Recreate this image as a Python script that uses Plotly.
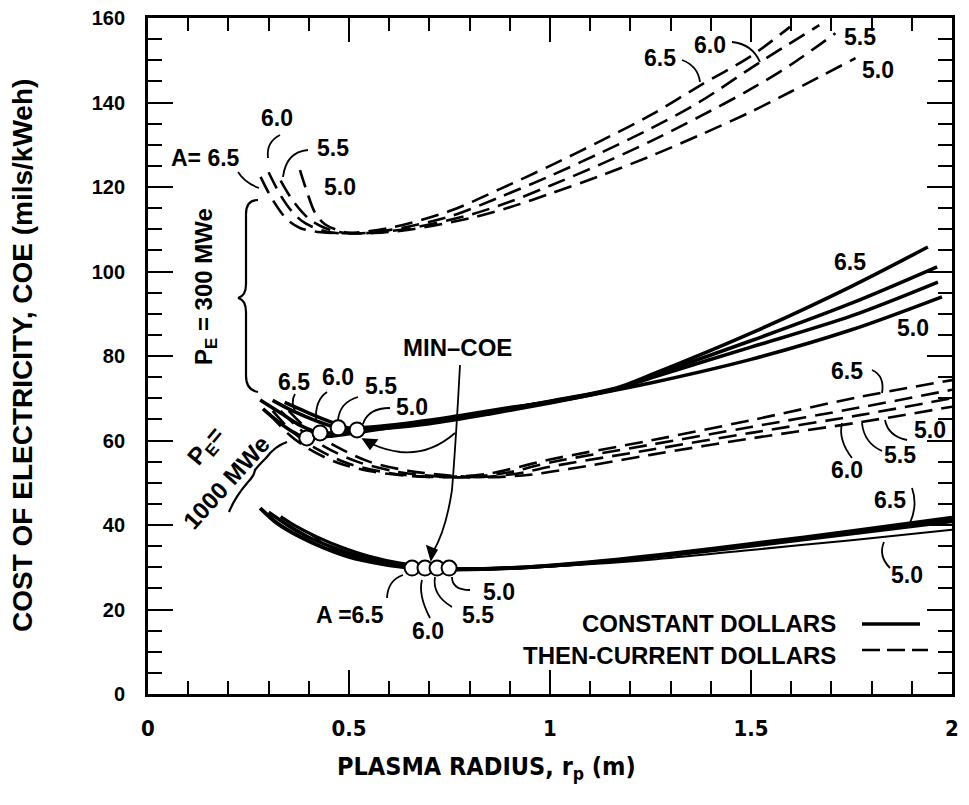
import plotly.graph_objects as go

# ---------------- data ----------------
# P_E = 300 MWe, then-current dollars (dashed)
r300t_65 = [0.28, 0.31, 0.346, 0.378, 0.43, 0.5, 0.6, 0.75, 0.875, 1.0, 1.124, 1.25, 1.373, 1.5, 1.597]
c300t_65 = [122.4, 117, 112.3, 110.3, 109.3, 109.1, 110.3, 114.3, 119.5, 125, 130.8, 137, 144, 151, 157.9]
r300t_60 = [0.30, 0.33, 0.36, 0.39, 0.445, 0.52, 0.6, 0.75, 0.875, 1.0, 1.124, 1.25, 1.373, 1.52, 1.67]
c300t_60 = [123.5, 118, 114, 111.5, 109.4, 109.0, 109.8, 113, 117.6, 122.6, 128, 133.8, 140.2, 149.4, 158.3]
r300t_55 = [0.33, 0.36, 0.40, 0.44, 0.478, 0.55, 0.65, 0.8, 0.9, 1.0, 1.124, 1.25, 1.373, 1.5, 1.6, 1.71]
c300t_55 = [121.5, 116.8, 112.5, 110.3, 109.3, 109.1, 110.2, 113.4, 116.5, 120.3, 125.3, 130.8, 136.7, 143.2, 149, 156.4]
r300t_50 = [0.378, 0.395, 0.415, 0.44, 0.49, 0.56, 0.65, 0.8, 0.9, 1.0, 1.124, 1.25, 1.373, 1.5, 1.6, 1.76]
c300t_50 = [124, 119, 114, 111.2, 109.3, 109.1, 109.9, 112.6, 115.2, 118.4, 122.6, 127.3, 132.3, 137.8, 142.6, 150.5]

# P_E = 300 MWe, constant dollars (solid)
r300c_65 = [0.286, 0.33, 0.365, 0.395, 0.45, 0.55, 0.7, 0.85, 1.0, 1.167, 1.25, 1.5, 1.75, 1.94]
c300c_65 = [67.5, 64, 61.8, 60.6, 61, 62.3, 64.5, 66.8, 69.3, 72.5, 75.5, 85.4, 96.5, 105.8]
r300c_60 = [0.279, 0.33, 0.38, 0.428, 0.48, 0.56, 0.7, 0.85, 1.0, 1.167, 1.25, 1.5, 1.75, 1.963]
c300c_60 = [69.6, 66.5, 63.5, 61.8, 62.0, 62.8, 64.6, 66.8, 69.2, 72.3, 75.2, 83.6, 92.5, 101.1]
r300c_55 = [0.31, 0.36, 0.42, 0.473, 0.52, 0.6, 0.75, 0.9, 1.0, 1.167, 1.25, 1.5, 1.75, 1.965]
c300c_55 = [69.5, 67, 64.6, 63.0, 63.0, 63.6, 65.5, 67.8, 69.1, 72.2, 74.8, 82.1, 89.5, 97.5]
r300c_50 = [0.34, 0.40, 0.46, 0.52, 0.58, 0.7, 0.85, 1.0, 1.167, 1.25, 1.5, 1.75, 1.975]
c300c_50 = [69, 66.5, 64.2, 62.5, 62.8, 64.0, 66.3, 68.9, 72, 73.6, 79.2, 86.2, 94]

# P_E = 1000 MWe, then-current dollars (dashed)
r1000t_65 = [0.30, 0.35, 0.40, 0.47, 0.55, 0.65, 0.75, 0.85, 1.0, 1.25, 1.5, 1.77, 2.0]
c1000t_65 = [66.5, 61.5, 58, 54.8, 52.8, 51.6, 51.4, 52.2, 55.5, 60, 64.8, 70.3, 74.3]
r1000t_60 = [0.31, 0.36, 0.42, 0.50, 0.60, 0.70, 0.80, 0.90, 1.0, 1.25, 1.5, 1.77, 2.0]
c1000t_60 = [67, 62, 58, 54.5, 52.3, 51.4, 51.4, 52.5, 54.8, 59, 63.2, 67.8, 72]
r1000t_55 = [0.33, 0.38, 0.44, 0.52, 0.62, 0.72, 0.82, 0.92, 1.0, 1.25, 1.5, 1.77, 2.0]
c1000t_55 = [67, 62.5, 58.5, 55, 52.6, 51.5, 51.3, 52.2, 53.8, 57.8, 61.8, 66, 70]
r1000t_50 = [0.35, 0.40, 0.47, 0.55, 0.65, 0.75, 0.85, 0.95, 1.05, 1.25, 1.5, 1.77, 2.0]
c1000t_50 = [67, 62.5, 58.5, 55, 52.8, 51.7, 51.3, 51.9, 53.3, 56.6, 60.5, 64.3, 68]

# P_E = 1000 MWe, constant dollars (solid)
r1000c_65 = [0.279, 0.32, 0.378, 0.44, 0.502, 0.58, 0.657, 0.75, 0.9, 1.1, 1.3, 1.5, 1.75, 2.0]
c1000c_65 = [44, 40.5, 37.2, 34.5, 32.4, 30.8, 29.8, 29.5, 29.8, 31.2, 33.2, 35.5, 38.5, 41.7]
r1000c_60 = [0.30, 0.35, 0.40, 0.46, 0.53, 0.61, 0.689, 0.78, 0.9, 1.1, 1.3, 1.5, 1.75, 2.0]
c1000c_60 = [43, 39.8, 37.1, 34.7, 32.5, 30.8, 29.8, 29.6, 29.8, 31.1, 33.0, 35.3, 38.3, 41.3]
r1000c_55 = [0.33, 0.37, 0.42, 0.48, 0.55, 0.63, 0.719, 0.8, 0.9, 1.1, 1.3, 1.5, 1.75, 2.0]
c1000c_55 = [42, 39.6, 37.2, 34.8, 32.6, 30.9, 29.8, 29.6, 29.8, 31, 32.8, 35, 37.9, 40.8]
r1000c_50 = [0.40, 0.46, 0.52, 0.58, 0.65, 0.749, 0.85, 1.0, 1.25, 1.5, 1.75, 2.0]
c1000c_50 = [38.1, 34.3, 32.3, 31, 30.2, 29.8, 29.8, 30.2, 31.8, 34.1, 36.4, 38.9]

# minimum-COE points
min300_r = [0.395, 0.428, 0.473, 0.52]
min300_coe = [60.6, 61.8, 63.0, 62.5]
min1000_r = [0.657, 0.689, 0.719, 0.749]
min1000_coe = [29.8, 29.8, 29.8, 29.8]

x_tickvals = [0, 0.5, 1, 1.5, 2]
x_ticktext = ["0", "0.5", "1", "1.5", "2"]
y_tickvals = [0, 20, 40, 60, 80, 100, 120, 140, 160]

# ---------------- helpers for annotation placement (window pixels) ----------------
def X(px):
    return (px - 148) / 402.0

def Y(py):
    return (694 - py) / 4.225

def PX(px):
    return (px - 148) / 804.0

def PY(py):
    return (694 - py) / 676.0

FONT = "Liberation Sans, Arial, Helvetica, sans-serif"
COND = "DejaVu Sans Condensed, Liberation Sans Narrow, Arial Narrow, sans-serif"
BLACK = "black"

fig = go.Figure()

def add_curve(r, c, dashed, width):
    fig.add_trace(go.Scatter(
        x=r, y=c, mode="lines", showlegend=False, hoverinfo="skip",
        line=dict(color=BLACK, width=width, shape="spline", smoothing=0.9,
                  dash="18px,9px" if dashed else "solid")))

for r, c in [(r300t_65, c300t_65), (r300t_60, c300t_60), (r300t_55, c300t_55), (r300t_50, c300t_50)]:
    add_curve(r, c, True, 2.6)
for r, c in [(r300c_65, c300c_65), (r300c_60, c300c_60), (r300c_55, c300c_55), (r300c_50, c300c_50)]:
    add_curve(r, c, False, 3.6)
for r, c in [(r1000t_65, c1000t_65), (r1000t_60, c1000t_60), (r1000t_55, c1000t_55), (r1000t_50, c1000t_50)]:
    add_curve(r, c, True, 2.6)
for r, c, w in [(r1000c_65, c1000c_65, 4), (r1000c_60, c1000c_60, 3.6), (r1000c_55, c1000c_55, 3.2), (r1000c_50, c1000c_50, 2)]:
    add_curve(r, c, False, w)

for mr, mc in [(min300_r, min300_coe), (min1000_r, min1000_coe)]:
    fig.add_trace(go.Scatter(
        x=mr, y=mc, mode="markers", showlegend=False, hoverinfo="skip",
        marker=dict(size=15, color="white", line=dict(color=BLACK, width=2))))

# ---------------- text labels ----------------
def label(px, py, text, size=23, angle=0, family=FONT, xanchor="center"):
    fig.add_annotation(x=X(px), y=Y(py), xref="x", yref="y", text=text,
                       showarrow=False, textangle=angle, xanchor=xanchor, yanchor="middle",
                       font=dict(family=family, size=size, color=BLACK, weight=700))

# 300 MWe then-current, left
label(205, 158, "A= 6.5")
label(277, 118, "6.0")
label(333, 148, "5.5")
label(340, 187, "5.0")
# 300 MWe then-current, right
label(660, 58, "6.5")
label(710, 45, "6.0")
label(860, 37, "5.5")
label(878, 70, "5.0")
# 300 MWe constant
label(294, 382, "6.5")
label(338, 377, "6.0")
label(381, 386, "5.5")
label(412, 407, "5.0")
label(850, 262, "6.5")
label(913, 328, "5.0")
# 1000 MWe then-current, right
label(847, 371, "6.5")
label(930, 430, "5.0")
label(900, 455, "5.5")
label(847, 470, "6.0")
# 1000 MWe constant
label(890, 500, "6.5")
label(907, 575, "5.0")
label(350, 615, "A =6.5")
label(428, 631, "6.0")
label(478, 615, "5.5")
label(499, 592, "5.0")

label(457, 347, "MIN\u2013COE", size=24)
label(205, 287, "P<sub>E</sub> = 300 MWe", size=24, angle=-90)
label(206, 447, "P<sub>E</sub>=", size=24, angle=-50)
label(226, 482, "1000 MWe", size=24, angle=-48)

# legend (drawn by hand: text left of the line sample)
label(838, 623, "CONSTANT DOLLARS", size=24, xanchor="right")
label(838, 655, "THEN-CURRENT DOLLARS", size=24, xanchor="right")
fig.add_shape(type="line", x0=X(862), x1=X(920), y0=Y(624), y1=Y(624), xref="x", yref="y",
              line=dict(color=BLACK, width=3.5))
fig.add_shape(type="line", x0=X(862), x1=X(928), y0=Y(650), y1=Y(650), xref="x", yref="y",
              line=dict(color=BLACK, width=2.6, dash="18px,7px"))

# axis titles (paper coordinates)
fig.add_annotation(x=PX(486), y=PY(768), xref="paper", yref="paper",
                   xanchor="center", yanchor="middle",
                   text="PLASMA RADIUS, r<sub>p</sub> (m)", showarrow=False,
                   font=dict(family=COND, size=25, color=BLACK, weight=700))
fig.add_annotation(x=PX(22), y=PY(356), xref="paper", yref="paper",
                   xanchor="center", yanchor="middle",
                   text="COST OF ELECTRICITY, COE (mils/kWeh)", showarrow=False, textangle=-90,
                   font=dict(family=FONT, size=28, color=BLACK, weight=700))

# ---------------- connector strokes, braces, arrows ----------------
def path(d, w=1.8, fill=None):
    fig.add_shape(type="path", path=d, xref="x", yref="y",
                  line=dict(color=BLACK, width=w),
                  fillcolor=fill if fill else "rgba(0,0,0,0)")

def P(px, py):
    return f"{X(px):.4f},{Y(py):.4f}"

def curve(p0, c, p1, w=1.8):
    path(f"M {P(*p0)} Q {P(*c)} {P(*p1)}", w)

# left top connectors
curve((238, 172), (245, 183), (259, 188))
curve((280, 135), (266, 142), (268, 158))
curve((308, 150), (286, 152), (283, 177))
# right top connectors
curve((682, 60), (698, 66), (700, 82))
curve((732, 42), (752, 44), (760, 62))
# 300 MWe constant label connectors
curve((295, 394), (290, 402), (296, 413))
curve((327, 392), (315, 400), (316, 420))
curve((358, 397), (340, 402), (338, 420))
curve((390, 408), (368, 408), (363, 424))
# 1000 MWe then-current connectors
curve((872, 370), (885, 376), (882, 393))
curve((907, 440), (888, 436), (885, 420))
curve((882, 451), (864, 443), (862, 423))
curve((852, 458), (838, 440), (842, 423))
# 1000 MWe constant connectors
curve((912, 488), (918, 505), (910, 523))
curve((884, 542), (878, 556), (890, 568))
curve((387, 598), (388, 580), (403, 575))
curve((430, 618), (418, 595), (422, 580))
curve((452, 607), (432, 595), (435, 577))
curve((470, 590), (452, 590), (452, 577))

# P_E = 300 MWe brace
path(f"M {P(258, 200)} Q {P(246, 200)} {P(246, 214)} L {P(246, 284)} "
     f"Q {P(246, 296)} {P(238, 298)} Q {P(246, 300)} {P(246, 312)} "
     f"L {P(246, 376)} Q {P(246, 390)} {P(258, 392)}", 2.2)
# P_E = 1000 MWe brace
path(f"M {P(287, 442)} Q {P(275, 446)} {P(266, 458)} Q {P(258, 466)} {P(255, 470)} "
     f"Q {P(254, 476)} {P(248, 482)} Q {P(235, 497)} {P(229, 512)}", 2.2)

# MIN-COE arrows
path(f"M {P(460, 365)} Q {P(456, 440)} {P(452, 490)} Q {P(446, 530)} {P(433, 552)}", 1.8)
path(f"M {P(455, 433)} Q {P(430, 455)} {P(400, 452)} Q {P(385, 450)} {P(372, 444)}", 1.8)
path(f"M {P(431, 560)} L {P(427, 546)} L {P(437, 550)} Z", 1.5, fill=BLACK)
path(f"M {P(363, 439)} L {P(377, 440)} L {P(370, 449)} Z", 1.5, fill=BLACK)

# ---------------- axes ----------------
fig.update_xaxes(range=[0, 2], tickvals=x_tickvals, ticktext=x_ticktext,
                 ticks="inside", ticklen=24, tickwidth=2, tickcolor=BLACK,
                 minor=dict(dtick=0.1, ticks="inside", ticklen=13, tickwidth=2, tickcolor=BLACK),
                 showline=True, linewidth=2.5, linecolor=BLACK, mirror="ticks",
                 showgrid=False, zeroline=False, ticklabelstandoff=13,
                 ticklabeloverflow="allow", automargin=False,
                 tickfont=dict(family=COND, size=22, color=BLACK, weight=700))
fig.update_yaxes(range=[0, 160], tickvals=y_tickvals,
                 ticks="inside", ticklen=25, tickwidth=2, tickcolor=BLACK,
                 minor=dict(dtick=5, ticks="inside", ticklen=14, tickwidth=2, tickcolor=BLACK),
                 showline=True, linewidth=2.8, linecolor=BLACK, mirror="ticks",
                 showgrid=False, zeroline=False, ticklabelstandoff=16,
                 ticklabeloverflow="allow", automargin=False,
                 tickfont=dict(family=FONT, size=20, color=BLACK, weight=700))

# the page body adds an 8px margin, so the figure is sized to fit the window with it
fig.update_layout(width=953, height=789, margin=dict(l=140, r=9, t=10, b=103),
                  plot_bgcolor="white", paper_bgcolor="white", showlegend=False)

fig.write_html("out.html")
